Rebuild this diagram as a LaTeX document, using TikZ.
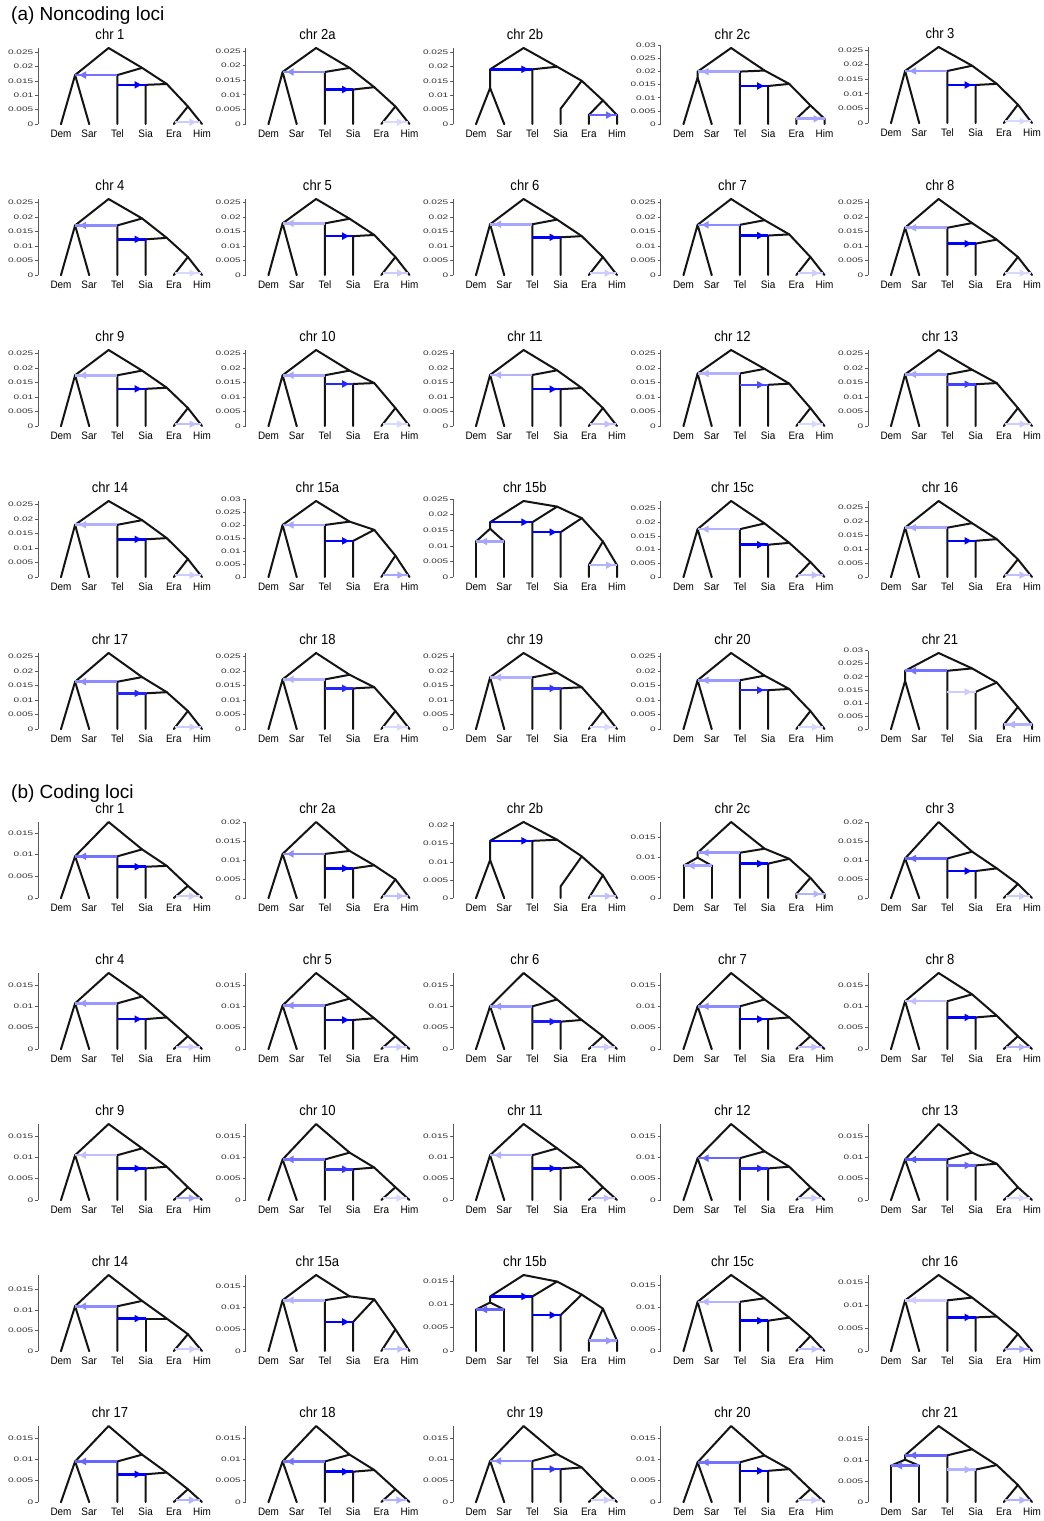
\documentclass[tikz,border=0pt]{standalone}
\usepackage{fontspec}
\setmainfont{Liberation Sans}
\usetikzlibrary{arrows.meta}
\tikzset{
  br/.style={line width=2pt, line cap=round, line join=round, black!92},
  ax/.style={line width=0.6pt, black!65},
  mig/.style={line width=2.6pt, draw=blue!#1!white},
  ticklab/.style={font=\fontsize{6.5}{6.5}\selectfont, xscale=1.55, inner sep=0.8pt, anchor=east, black!80},
  taxon/.style={font=\fontsize{10.8}{11}\selectfont, xscale=0.92, inner sep=0pt},
  ttl/.style={font=\fontsize{14.5}{15}\selectfont, xscale=0.9, inner sep=0pt},
  sect/.style={font=\fontsize{19}{20}\selectfont, anchor=west, inner sep=0pt},
}
% node heights of one panel, in units of 0.001
\pgfkeys{/chr/.is family, /chr,
  R/.store in=\cR, d/.store in=\cD, dt/.store in=\cDT, ds/.store in=\cDS,
  n1/.store in=\cNa, s/.store in=\cS, n2/.store in=\cNb, e/.store in=\cE,
  es/.store in=\cES,
  reset/.style={dt=0, ds=0, n1=0, n2=0, es=0},
  sec/.style={R=26.2, d=17.5, s=13, e=6.2}}

% #1 name, #2 x of Dem tip, #3 y of zero line, #4 title, #5 heights
\newcommand{\chrplot}[5]{%
  \pgfkeys{/chr, reset, sec, #5}%
  \pgfmathsetmacro\cK{76/\cR}%
  \pgfmathsetmacro\cDT{max(\cDT,\cD)}%
  \pgfmathsetmacro\cNa{(\cNa>0) ? \cNa : (\cDT+1.6)}%
  \pgfmathsetmacro\cNb{(\cNb>0) ? \cNb : (\cS+0.4)}%
  \pgfmathsetmacro\cEA{(\cES>0) ? \cES : (0.025*\cR)}%
  \pgfmathsetmacro\cEX{(\cES>0) ? 0 : (14.1*\cEA/\cE)}%
  \pgfmathtruncatemacro\cNT{floor((\cR+1)/5)}%
  \pgfmathsetmacro\cTop{max(\cR,5*\cNT)}%
  \coordinate (#1-dem)  at (#2,#3);
  \coordinate (#1-demt) at (#2,#3-\cDS*\cK);
  \coordinate (#1-sar)  at (#2+28.2,#3);
  \coordinate (#1-sart) at (#2+28.2,#3-\cDS*\cK);
  \coordinate (#1-ds)   at (#2+14.1,#3-\cD*\cK);
  \coordinate (#1-dst)  at (#2+14.1,#3-\cDT*\cK);
  \coordinate (#1-tel)  at (#2+56.4,#3);
  \coordinate (#1-telt) at (#2+56.4,#3-\cDT*\cK);
  \coordinate (#1-tels) at (#2+56.4,#3-\cS*\cK);
  \coordinate (#1-sia)  at (#2+84.6,#3);
  \coordinate (#1-siat) at (#2+84.6,#3-\cS*\cK);
  \coordinate (#1-era)  at (#2+112.8,#3);
  \coordinate (#1-erat) at (#2+112.8,#3-\cES*\cK);
  \coordinate (#1-him)  at (#2+141,#3);
  \coordinate (#1-himt) at (#2+141,#3-\cES*\cK);
  \coordinate (#1-eh)   at (#2+126.9,#3-\cE*\cK);
  \coordinate (#1-n2)   at (#2+105.75,#3-\cNb*\cK);
  \coordinate (#1-n1)   at (#2+81.1,#3-\cNa*\cK);
  \coordinate (#1-root) at (#2+47.6,#3-\cR*\cK);
  \coordinate (#1-erah) at (#2+112.8+\cEX,#3-\cEA*\cK);
  \coordinate (#1-himh) at (#2+141-\cEX,#3-\cEA*\cK);
  % axis
  \draw[ax] (#2-23,#3) -- (#2-23,#3-\cTop*\cK);
  \foreach \i/\tv in {0/0, 1/0.005, 2/0.01, 3/0.015, 4/0.02, 5/0.025, 6/0.03}{
    \ifnum\i>\cNT\relax\else
      \draw[ax] (#2-23,#3-5*\i*\cK) -- ++(-3,0) node[ticklab] (#1-y\i) {\tv};
    \fi}
  % tree
  \draw[br] (#1-demt) -- (#1-dem) (#1-sart) -- (#1-sar);
  \draw[br] (#1-demt) -- (#1-ds) -- (#1-sart);
  \draw[br] (#1-ds) -- (#1-dst) -- (#1-root) -- (#1-n1) -- (#1-n2) -- (#1-eh) -- (#1-himt) -- (#1-him);
  \draw[br] (#1-n1) -- (#1-telt) -- (#1-tel);
  \draw[br] (#1-n2) -- (#1-siat) -- (#1-sia);
  \draw[br] (#1-eh) -- (#1-erat) -- (#1-era);
  \foreach \lab/\ox in {Dem/0, Sar/28.2, Tel/56.4, Sia/84.6, Era/112.8, Him/141}
    \node[taxon] (#1-\lab) at (#2+\ox,#3+10) {\lab};
  \node[ttl] (#1-title) at (#2+49,#3-90) {#4};
}
\newcommand{\mig}[3]{%
  \draw[mig=#3] (#1) -- (#2);
  \draw[mig=#3, -{Triangle[length=7pt, width=7pt]}, shorten >=4pt] (#1) -- (#2);}
\newcommand{\stdmig}[4]{\mig{#1-telt}{#1-dst}{#2}\mig{#1-tels}{#1-siat}{#3}\mig{#1-erah}{#1-himh}{#4}}

\begin{document}
\begin{tikzpicture}[x=1pt, y=1pt, yscale=-1]
\useasboundingbox[fill=white] (0,0) rectangle (1044,1521);

%% ═══════════════════════════════════════════════════════════════════════════
%%  (a) Noncoding loci
%% ═══════════════════════════════════════════════════════════════════════════
\node[sect] (secA) at (11,16) {(a) Noncoding loci};

\chrplot{a1}{61}{124}{chr 1}{R=26.4, d=17, n1=19.5, s=13.6, n2=13.9, e=6.1}
\stdmig{a1}{55}{100}{20}
\chrplot{a2a}{268.5}{124}{chr 2a}{R=26, d=17.8, n1=19.2, s=11.8, n2=12.6, e=6}
\stdmig{a2a}{45}{100}{15}
\chrplot{a2b}{476}{124}{chr 2b}{R=26.4, d=12.5, dt=19, n1=19.9, s=5.3, n2=15, e=8.2, es=3.1}
\mig{a2b-dst}{a2b-telt}{100}
\mig{a2b-erah}{a2b-himh}{60}
\chrplot{a2c}{683.5}{124}{chr 2c}{R=29, d=17.7, dt=20, n1=20.4, s=14.5, n2=15.3, e=7.1, es=2}
\stdmig{a2c}{35}{100}{35}
\chrplot{a3}{891}{123}{chr 3}{R=26, d=17.8, n1=19.6, s=13, n2=13.4, e=6.3}
\stdmig{a3}{40}{100}{15}

\chrplot{a4}{61}{275}{chr 4}{d=17.1, n1=19.5, s=12.3, n2=12.8}
\stdmig{a4}{45}{100}{15}
\chrplot{a5}{268.5}{275}{chr 5}{d=17.8, s=13.4}
\stdmig{a5}{30}{100}{20}
\chrplot{a6}{476}{275}{chr 6}{d=17.5, s=13}
\stdmig{a6}{35}{100}{20}
\chrplot{a7}{683.5}{275}{chr 7}{d=17.3, s=13.6}
\stdmig{a7}{45}{100}{20}
\chrplot{a8}{891}{275}{chr 8}{d=16.3, s=10.8, n2=12.2}
\stdmig{a8}{35}{100}{15}

\chrplot{a9}{61}{426}{chr 9}{d=17.5, s=12.8}
\stdmig{a9}{30}{100}{25}
\chrplot{a10}{268.5}{426}{chr 10}{d=17.5, s=14.5, n2=14.8}
\stdmig{a10}{35}{85}{15}
\chrplot{a11}{476}{426}{chr 11}{d=17.6, s=12.7}
\stdmig{a11}{30}{100}{25}
\chrplot{a12}{683.5}{426}{chr 12}{d=18.1, s=14.2}
\stdmig{a12}{30}{70}{15}
\chrplot{a13}{891}{426}{chr 13}{d=17.8, s=14.4}
\stdmig{a13}{35}{75}{20}

\chrplot{a14}{61}{577}{chr 14}{d=18, s=13}
\stdmig{a14}{30}{100}{20}
\chrplot{a15a}{268.5}{577}{chr 15a}{R=29.5, d=20.2, n1=21.5, s=14, n2=18.3, e=8.3}
\stdmig{a15a}{35}{100}{35}
\chrplot{a15b}{476}{577}{chr 15b}{R=24.4, d=15.5, dt=17.6, ds=11.4, n1=22.6, s=14.4, n2=18.9, e=11.4, es=3.8}
\mig{a15b-dst}{a15b-telt}{100}
\mig{a15b-tels}{a15b-siat}{100}
\mig{a15b-sart}{a15b-demt}{35}
\mig{a15b-erah}{a15b-himh}{30}
\chrplot{a15c}{683.5}{577}{chr 15c}{R=27.8, d=17.5, n1=19.6, s=11.8, n2=12.5, e=5.5}
\stdmig{a15c}{30}{100}{25}
\chrplot{a16}{891}{577}{chr 16}{R=27.1, d=17.6, n1=19.2, s=12.9, n2=13.5, e=6.3}
\stdmig{a16}{35}{100}{25}

\chrplot{a17}{61}{729}{chr 17}{d=16.3, s=12.3}
\stdmig{a17}{45}{85}{20}
\chrplot{a18}{268.5}{729}{chr 18}{d=17.1, s=14}
\stdmig{a18}{30}{85}{15}
\chrplot{a19}{476}{729}{chr 19}{d=17.8, s=14}
\stdmig{a19}{30}{80}{15}
\chrplot{a20}{683.5}{729}{chr 20}{d=16.8, s=13.4}
\stdmig{a20}{40}{85}{15}
\chrplot{a21}{891}{729}{chr 21}{R=29.1, d=18.4, dt=22.3, n1=23.2, s=14.2, n2=17.8, e=8.4, es=1.7}
\mig{a21-telt}{a21-dst}{55}
\mig{a21-tels}{a21-siat}{20}
\mig{a21-himh}{a21-erah}{30}

%% ═══════════════════════════════════════════════════════════════════════════
%%  (b) Coding loci
%% ═══════════════════════════════════════════════════════════════════════════
\node[sect] (secB) at (11,794) {(b) Coding loci};
\pgfkeys{/chr/sec/.style={R=17.8, d=10, s=7.2, e=3}}

\chrplot{b1}{61}{898}{chr 1}{R=17.5, d=9.6, n1=11.2, s=7.2, n2=7.4, e=2.8}
\stdmig{b1}{55}{100}{20}
\chrplot{b2a}{268.5}{898}{chr 2a}{R=20, d=11.6, n1=12.4, s=7.8, n2=8.6, e=4.9}
\stdmig{b2a}{45}{100}{25}
\chrplot{b2b}{476}{898}{chr 2b}{R=21, d=10.5, dt=15.8, n1=16.1, s=3.2, n2=11.5, e=6.3}
\mig{b2b-dst}{b2b-telt}{100}
\mig{b2b-erah}{b2b-himh}{25}
\chrplot{b2c}{683.5}{898}{chr 2c}{R=18.8, d=10, dt=11.2, ds=8, n1=12.2, s=8.5, n2=9.7, e=5, es=1}
\stdmig{b2c}{40}{100}{30}
\mig{b2c-sart}{b2c-demt}{35}
\chrplot{b3}{891}{898}{chr 3}{R=20, d=10.4, n1=12.2, s=7.1, n2=7.8, e=3.7}
\stdmig{b3}{60}{100}{20}

\chrplot{b4}{61}{1049}{chr 4}{d=10.7, s=7}
\stdmig{b4}{40}{100}{20}
\chrplot{b5}{268.5}{1049}{chr 5}{d=10.2, s=6.8}
\stdmig{b5}{45}{100}{20}
\chrplot{b6}{476}{1049}{chr 6}{d=10, s=6.4}
\stdmig{b6}{40}{90}{20}
\chrplot{b7}{683.5}{1049}{chr 7}{d=10, s=7}
\stdmig{b7}{45}{100}{25}
\chrplot{b8}{891}{1049}{chr 8}{d=11.2, s=7.4}
\stdmig{b8}{25}{100}{30}

\chrplot{b9}{61}{1200}{chr 9}{d=10.5, s=7.4}
\stdmig{b9}{25}{100}{35}
\chrplot{b10}{268.5}{1200}{chr 10}{d=9.5, s=7.2}
\stdmig{b10}{55}{80}{15}
\chrplot{b11}{476}{1200}{chr 11}{d=10.5, s=7.4}
\stdmig{b11}{30}{100}{25}
\chrplot{b12}{683.5}{1200}{chr 12}{d=9.8, s=7.4}
\stdmig{b12}{60}{85}{20}
\chrplot{b13}{891}{1200}{chr 13}{d=9.5, s=8.1}
\stdmig{b13}{65}{60}{15}

\chrplot{b14}{61}{1351}{chr 14}{R=18.5, d=10.9, n1=12.2, s=7.9, n2=7.9, e=4.1}
\stdmig{b14}{45}{100}{20}
\chrplot{b15a}{268.5}{1351}{chr 15a}{R=17.5, d=11.7, n1=12.6, s=6.7, n2=11.9, e=5}
\stdmig{b15a}{30}{100}{25}
\chrplot{b15b}{476}{1351}{chr 15b}{R=16.3, d=10.4, dt=11.7, ds=8.9, n1=14.9, s=7.7, n2=12.1, e=9.1, es=2.2}
\mig{b15b-dst}{b15b-telt}{100}
\mig{b15b-tels}{b15b-siat}{100}
\mig{b15b-sart}{b15b-demt}{60}
\mig{b15b-erah}{b15b-himh}{40}
\chrplot{b15c}{683.5}{1351}{chr 15c}{R=17.3, d=11.2, n1=12, s=6.9, n2=7.6, e=3.4}
\stdmig{b15c}{30}{100}{25}
\chrplot{b16}{891}{1351}{chr 16}{R=16.5, d=11, n1=11.6, s=7.3, n2=7.5, e=3.7}
\stdmig{b16}{20}{100}{35}

\chrplot{b17}{61}{1502}{chr 17}{d=9.5, s=6.5}
\stdmig{b17}{60}{100}{30}
\chrplot{b18}{268.5}{1502}{chr 18}{d=9.5, s=7.1}
\stdmig{b18}{55}{100}{30}
\chrplot{b19}{476}{1502}{chr 19}{d=9.6, s=7.7}
\stdmig{b19}{45}{80}{20}
\chrplot{b20}{683.5}{1502}{chr 20}{d=9.3, s=7.3}
\stdmig{b20}{55}{100}{20}
\chrplot{b21}{891}{1502}{chr 21}{R=18.3, d=10.2, dt=11.25, ds=8.75, n1=12.7, s=7.8, n2=8.9, e=4.1}
\mig{b21-telt}{b21-dst}{60}
\mig{b21-tels}{b21-siat}{30}
\mig{b21-sart}{b21-demt}{55}
\mig{b21-erah}{b21-himh}{30}

\end{tikzpicture}
\end{document}
